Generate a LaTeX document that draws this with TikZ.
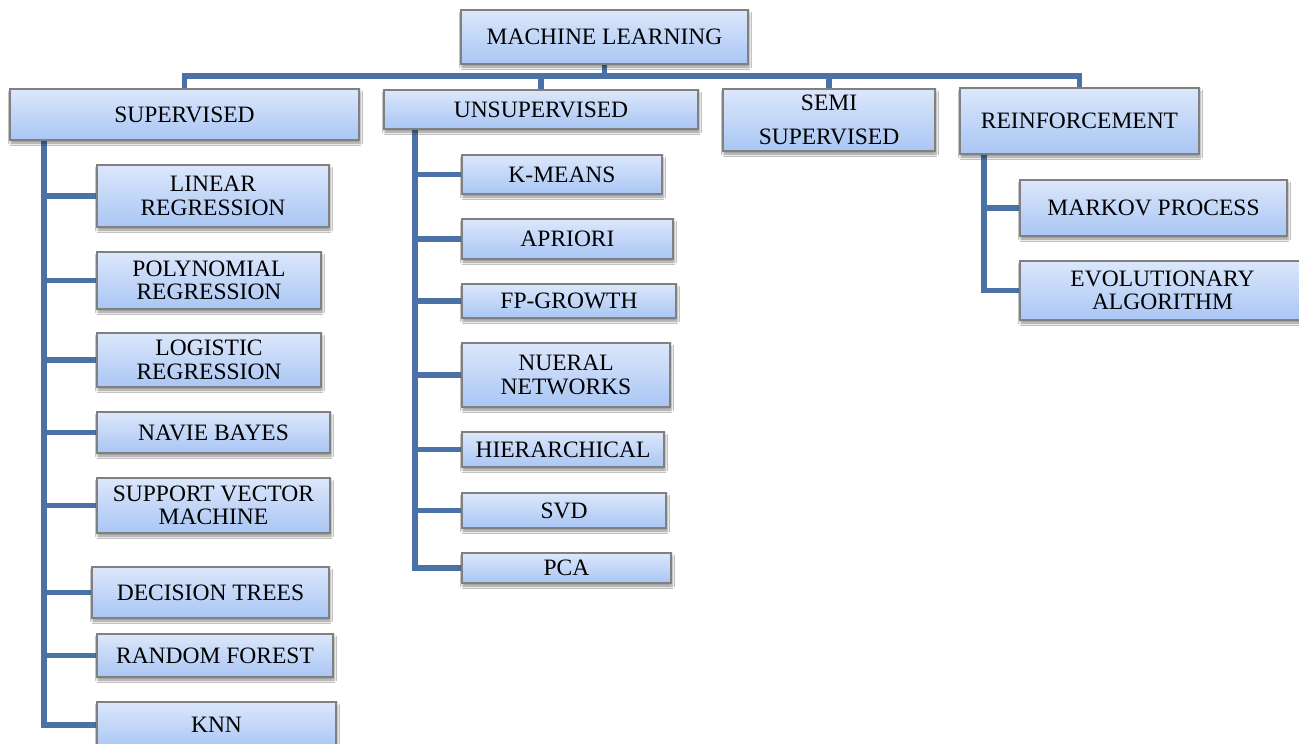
\documentclass[tikz,border=0pt]{standalone}
\usepackage{fontspec}
\setmainfont{Liberation Serif}
\usetikzlibrary{shadows,shadows.blur,backgrounds}
\definecolor{conncol}{HTML}{4A72A6}
\definecolor{boxtop}{HTML}{DCE7FB}
\definecolor{boxbot}{HTML}{A9C6F4}
\definecolor{boxline}{HTML}{808080}
\tikzset{
  box/.style={draw=boxline, line width=1.2pt, rectangle, top color=boxtop, bottom color=boxbot,
    inner sep=0pt, align=center, font=\fontsize{23.5}{23.5}\selectfont,
    blur shadow={shadow xshift=1pt, shadow yshift=-3pt, shadow blur radius=2.5pt, shadow opacity=45}},
  conn/.style={draw=conncol, line width=5.5pt, line join=miter}
}
\newcommand\bx[6]{\node[box, minimum width={#4pt-#2pt}, minimum height={#5pt-#3pt}] (#1) at ({(#2+#4)/2},{(#3+#5)/2}) {#6};}
\begin{document}
\begin{tikzpicture}[x=1pt,y=-1pt]
\useasboundingbox (0,0) rectangle (1299,744);
\bx{ml}{461}{10}{748}{64}{MACHINE LEARNING}
\bx{sup}{10}{89}{359}{140}{SUPERVISED}
\bx{uns}{384}{90}{698}{129}{UNSUPERVISED}
\bx{semi}{723}{89}{935}{151}{SEMI\\[10pt]SUPERVISED}
\bx{rein}{960}{88}{1199}{154}{REINFORCEMENT}
% supervised children
\bx{lin}{97}{165}{329}{227}{LINEAR\\REGRESSION}
\bx{poly}{97}{252}{321}{309}{POLYNOMIAL\\REGRESSION}
\bx{logi}{97}{333}{321}{387}{LOGISTIC\\REGRESSION}
\bx{nb}{97}{412}{330}{453}{NAVIE BAYES}
\bx{svm}{97}{478}{330}{533}{SUPPORT VECTOR\\MACHINE}
\bx{dt}{92}{567}{329}{618}{DECISION TREES}
\bx{rf}{97}{634}{333}{677}{RANDOM FOREST}
\bx{knn}{97}{702}{336}{748}{KNN}
% unsupervised children
\bx{km}{462}{155}{662}{194}{K-MEANS}
\bx{apr}{462}{219}{673}{259}{APRIORI}
\bx{fp}{462}{284}{676}{318}{FP-GROWTH}
\bx{nn}{462}{343}{670}{407}{NUERAL\\NETWORKS}
\bx{hier}{462}{432}{664}{467}{HIERARCHICAL}
\bx{svd}{462}{493}{666}{528}{SVD}
\bx{pca}{462}{553}{671}{583}{PCA}
% reinforcement children
\bx{mk}{1020}{180}{1287}{236}{MARKOV PROCESS}
\bx{evo}{1020}{261}{1305}{320}{EVOLUTIONARY\\ALGORITHM}
\coordinate (bus) at (0,76);
\coordinate (sspine) at (44,0);
\coordinate (uspine) at (415,0);
\coordinate (rspine) at (984,0);
\begin{scope}[on background layer]
\fill[white] (0,0) rectangle (1299,744);
\foreach \c in {sup,uns,semi,rein}
  \draw[conn] (ml.south) -- (ml.south |- bus) -| (\c.north);
\foreach \c in {lin,poly,logi,nb,svm,dt,rf,knn}
  \draw[conn] (sup.south -| sspine) |- (\c.west);
\foreach \c in {km,apr,fp,nn,hier,svd,pca}
  \draw[conn] (uns.south -| uspine) |- (\c.west);
\foreach \c in {mk,evo}
  \draw[conn] (rein.south -| rspine) |- (\c.west);
\end{scope}
\end{tikzpicture}
\end{document}
